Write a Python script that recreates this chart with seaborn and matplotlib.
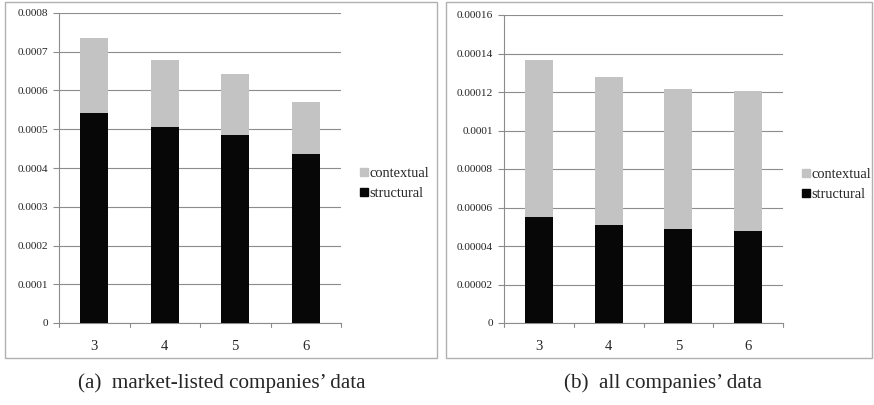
import numpy as np
import pandas as pd
import matplotlib
matplotlib.use("Agg")
import matplotlib.pyplot as plt
from matplotlib.patches import Rectangle
from matplotlib.lines import Line2D
import seaborn as sns

# valeurs
k_values = ["3", "4", "5", "6"]
listed_structural = [0.000543, 0.000506, 0.000486, 0.000435]
listed_contextual = [0.000193, 0.000174, 0.000156, 0.000135]
all_structural = [0.0000549, 0.0000510, 0.0000486, 0.0000480]
all_contextual = [0.0000816, 0.0000769, 0.0000729, 0.0000724]

captions = ["(a)  market-listed companies\u2019 data", "(b)  all companies\u2019 data"]

sns.set_style("white")
plt.rcParams["font.family"] = ["Liberation Serif", "DejaVu Serif"]

grey = "#c3c3c3"
black = "#070707"
line_grey = "#8c8c8c"

W, H = 874, 405
fig = plt.figure(figsize=(W / 100, H / 100), dpi=100)


def px(x0, y0, x1, y1):
    # pixel box -> figure fraction
    return [x0 / W, 1 - y1 / H, (x1 - x0) / W, (y1 - y0) / H]


panels = [
    dict(frame=(5, 2, 437, 358), axes=(59, 13, 341, 323), struct=listed_structural,
         ctx=listed_contextual, ymax=0.0008, labels=["0", "0.0001", "0.0002", "0.0003",
         "0.0004", "0.0005", "0.0006", "0.0007", "0.0008"],
         legend_x=(358 - 59) / (341 - 59), cap_x=222),
    dict(frame=(446, 2, 872, 358), axes=(504, 15, 783, 323), struct=all_structural,
         ctx=all_contextual, ymax=0.00016, labels=["0", "0.00002", "0.00004", "0.00006",
         "0.00008", "0.0001", "0.00012", "0.00014", "0.00016"],
         legend_x=(800 - 504) / (783 - 504), cap_x=663),
]

for i, p in enumerate(panels):
    x0, y0, x1, y1 = p["frame"]
    fig.patches.append(Rectangle((x0 / W, 1 - y1 / H), (x1 - x0) / W, (y1 - y0) / H,
                                 transform=fig.transFigure, fill=False,
                                 edgecolor="#b0b0b0", linewidth=1.0))

    ax = fig.add_axes(px(*p["axes"]))
    df = pd.DataFrame({"k": k_values, "structural": p["struct"], "contextual": p["ctx"]})
    df["total"] = df["structural"] + df["contextual"]

    sns.barplot(data=df, x="k", y="total", color=grey, width=0.4, saturation=1,
                linewidth=0, edgecolor="none", ax=ax, zorder=3)
    sns.barplot(data=df, x="k", y="structural", color=black, width=0.4, saturation=1,
                linewidth=0, edgecolor="none", ax=ax, zorder=4)

    ax.set_xlim(-0.5, 3.5)
    ax.set_ylim(0, p["ymax"])
    ax.set_yticks(np.linspace(0, p["ymax"], 9))
    ax.set_yticklabels(p["labels"], fontsize=8.2)
    ax.yaxis.grid(True, color=line_grey, linewidth=0.8, zorder=0)
    ax.set_axisbelow(True)
    ax.set_xlabel("")
    ax.set_ylabel("")
    ax.tick_params(axis="x", labelsize=10.5, length=0, pad=12)
    ax.tick_params(axis="y", length=4, width=0.8, color=line_grey, left=True, pad=4)
    # separateurs entre categories
    for b in np.arange(-0.5, 4, 1):
        ax.plot([b, b], [0, -0.013], transform=ax.get_xaxis_transform(), color=line_grey,
                linewidth=0.8, clip_on=False)
    for side in ["top", "right"]:
        ax.spines[side].set_visible(False)
    for side in ["left", "bottom"]:
        ax.spines[side].set_color(line_grey)
        ax.spines[side].set_linewidth(0.8)

    handles = [Line2D([], [], marker="s", linestyle="", color=grey, markersize=6),
               Line2D([], [], marker="s", linestyle="", color=black, markersize=6)]
    ax.legend(handles, ["contextual", "structural"], loc="center left",
              bbox_to_anchor=(p["legend_x"], 0.45), frameon=False, fontsize=10.4,
              handletextpad=0.0, handlelength=0.8, labelspacing=0.5, borderaxespad=0,
              borderpad=0)

    fig.text(p["cap_x"] / W, 1 - 383 / H, captions[i], ha="center",
             va="center", fontsize=15.2)

fig.savefig("out.png", dpi=100)
